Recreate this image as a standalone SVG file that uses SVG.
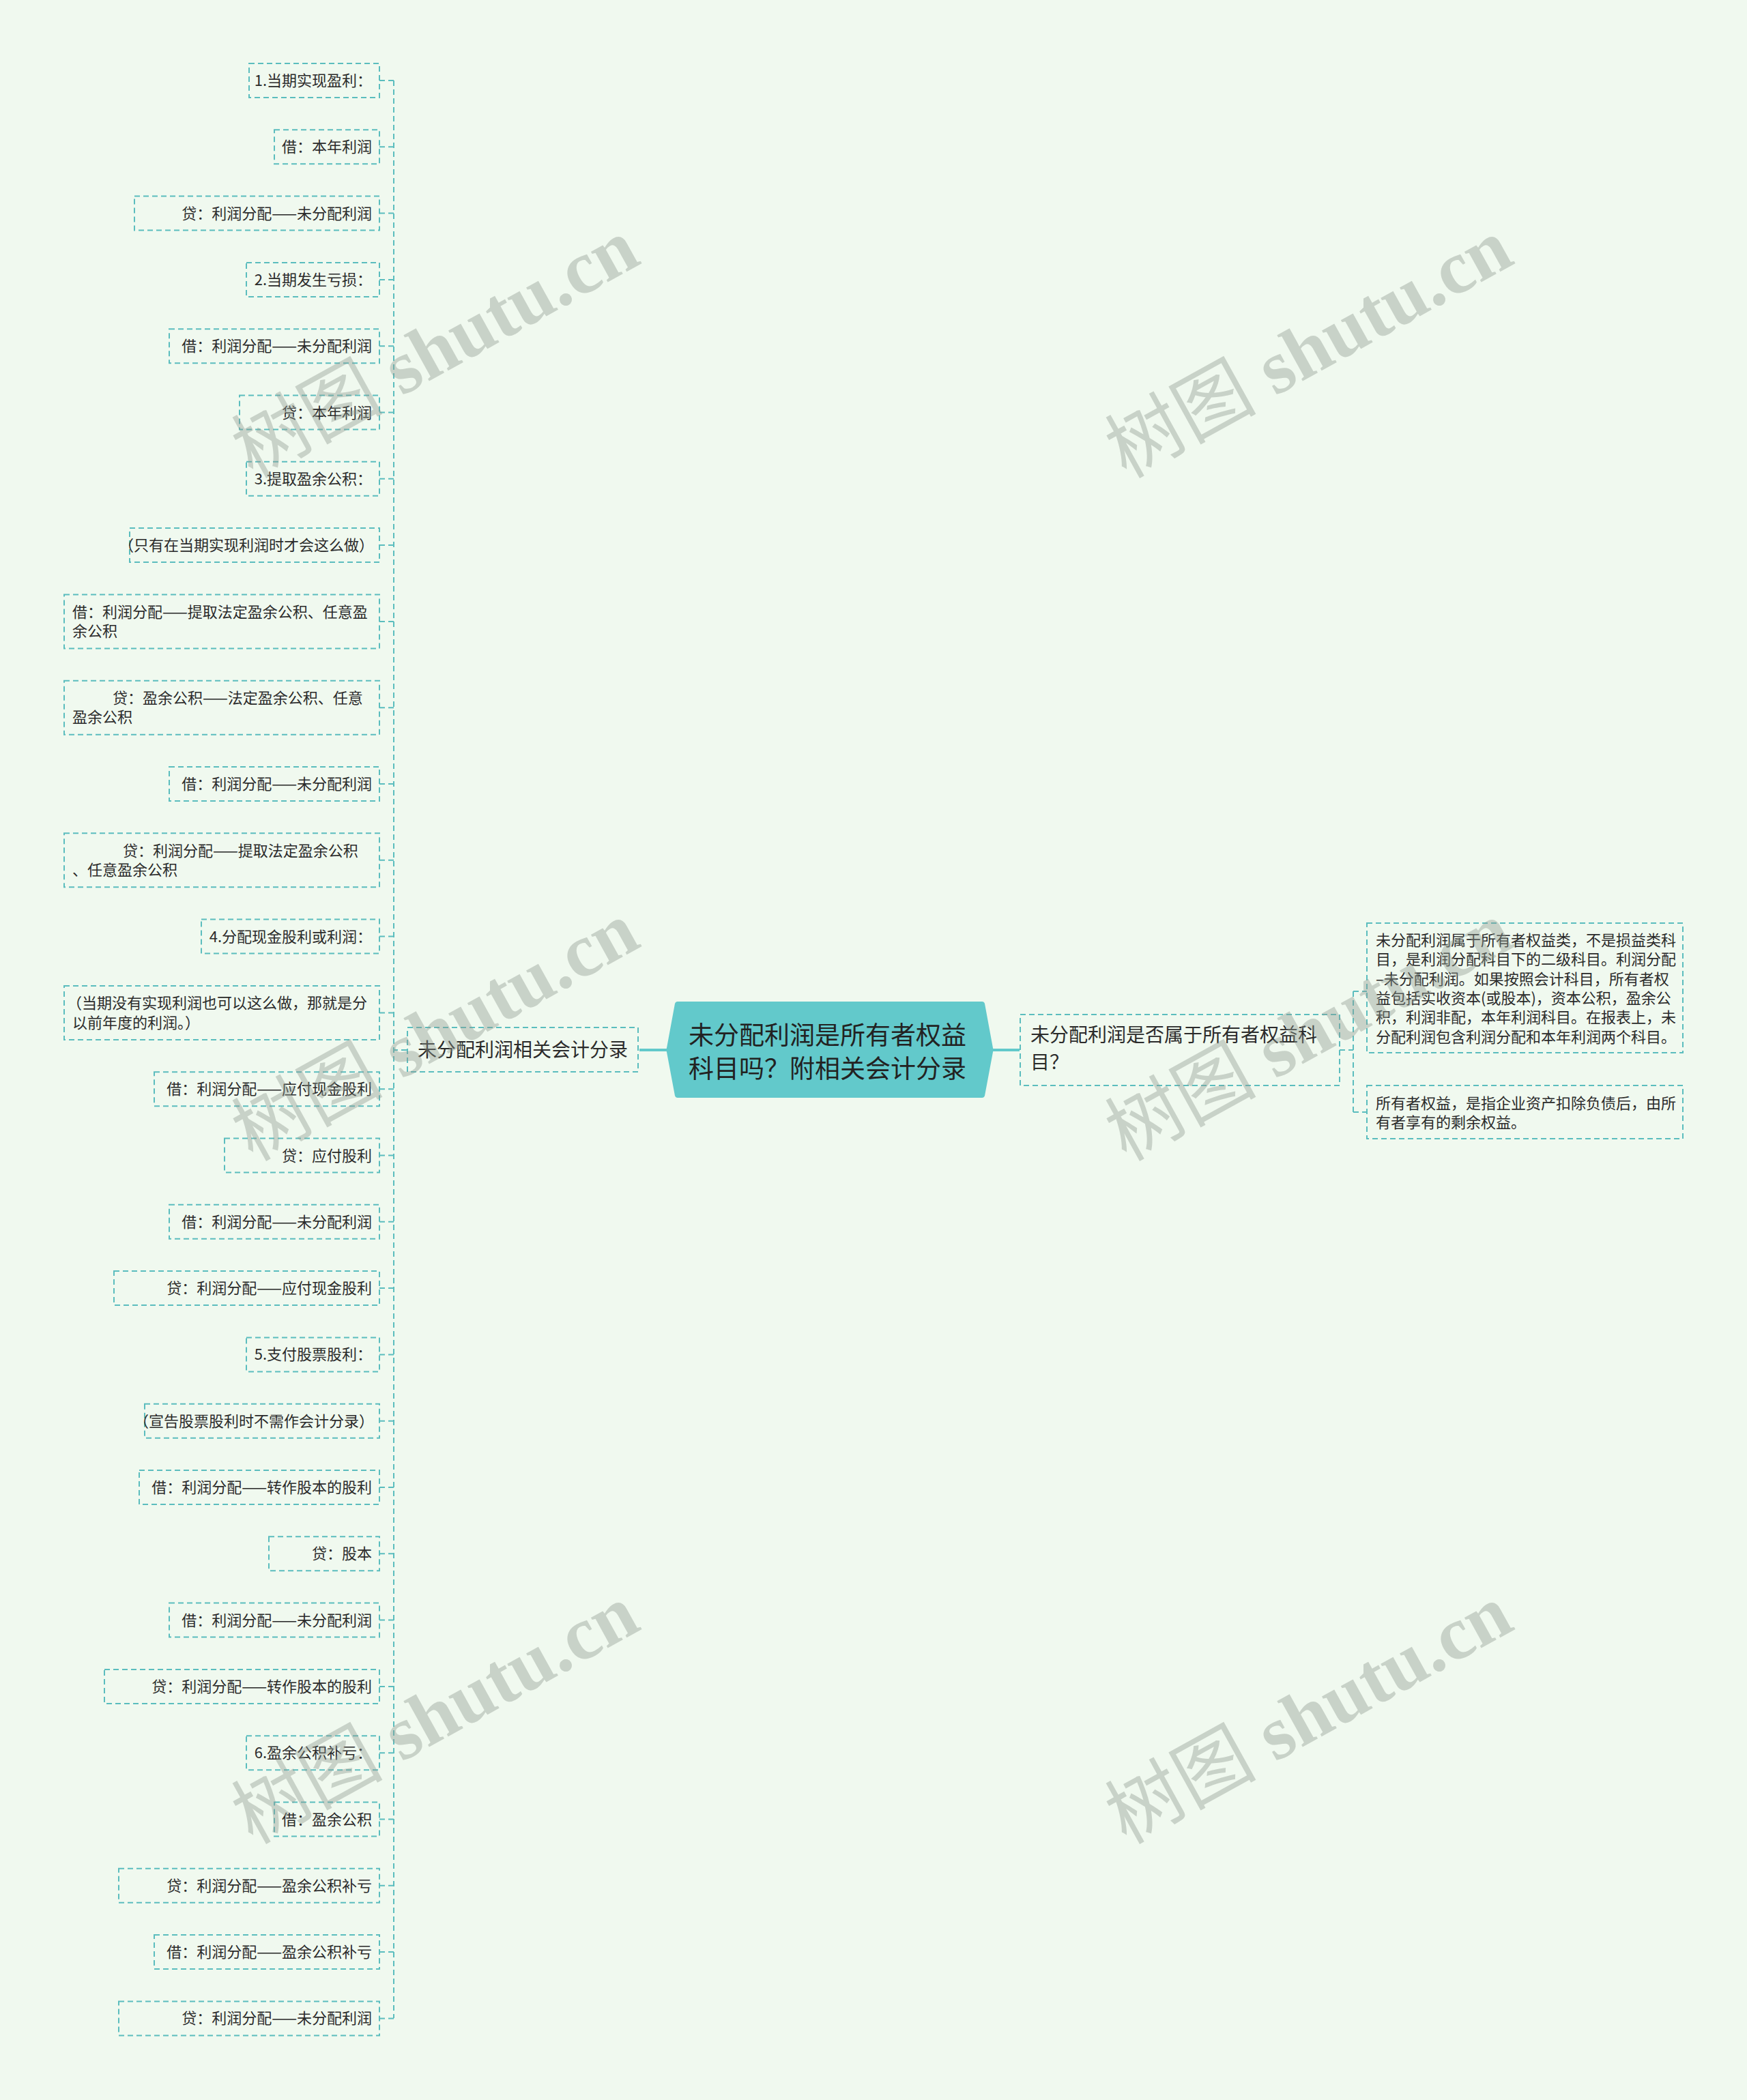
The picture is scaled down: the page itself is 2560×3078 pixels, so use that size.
<svg xmlns="http://www.w3.org/2000/svg" width="2560" height="3078" viewBox="0 0 2560 3078">
<style>
.bg{fill:#F0F9EF}
.box{fill:none;stroke:#5BBDBE;stroke-width:2;stroke-dasharray:8 5}
.ln{fill:none;stroke:#5BBDBE;stroke-width:2;stroke-dasharray:8 5}
.solid{fill:none;stroke:#62C9CB;stroke-width:4}
.t{font-family:"Noto Sans CJK SC","Noto Sans",sans-serif;font-size:22px;fill:#2b2b2b}
.r{text-anchor:end}
.b{font-family:"Noto Sans CJK SC","Noto Sans",sans-serif;font-size:28px;fill:#2b2b2b}
.c{font-family:"Noto Sans CJK SC","Noto Sans",sans-serif;font-size:37px;fill:#222}
.wm{font-family:"Liberation Serif","Noto Sans CJK SC",serif;font-size:111px;fill:#8f998f;opacity:0.4}
.wb{font-weight:bold}
</style>
<rect class="bg" x="0" y="0" width="2560" height="3078"/>

<g id="connectors">
<path class="solid" d="M977,1539 H937"/>
<path class="solid" d="M1455,1539 H1494"/>
<path class="ln" d="M596,1539 H577"/>
<path class="ln" d="M577,118 V2958"/>
<path class="ln" d="M556,118 H577 M556,215.3 H577 M556,312.6 H577 M556,409.9 H577 M556,507.2 H577 M556,604.5 H577 M556,701.8 H577 M556,799.1 H577 M556,910.9 H577 M556,1037.2 H577 M556,1149 H577 M556,1260.8 H577 M556,1372.6 H577 M556,1484.4 H577 M556,1596.2 H577 M556,1693.5 H577 M556,1790.8 H577 M556,1888.1 H577 M556,1985.4 H577 M556,2082.7 H577 M556,2180 H577 M556,2277.3 H577 M556,2374.6 H577 M556,2471.9 H577 M556,2569.2 H577 M556,2666.5 H577 M556,2763.8 H577 M556,2861.1 H577 M556,2958.4 H577"/>
<path class="ln" d="M1963,1539 H1983"/>
<path class="ln" d="M1983,1453 V1630"/>
<path class="ln" d="M1983,1453 H2003 M1983,1630 H2003"/>
</g>

<g id="root">
<path d="M993,1468 H1439 Q1442,1468 1443,1471 L1455,1536 Q1456,1539 1455,1542 L1443,1606 Q1442,1609 1439,1609 H993 Q990,1609 989,1606 L977,1542 Q976,1539 977,1536 L989,1471 Q990,1468 993,1468 Z" fill="#62C9CB"/>
<text class="c" x="1009" y="1531">未分配利润是所有者权益</text>
<text class="c" x="1009" y="1580">科目吗？附相关会计分录</text>
</g>

<g id="branch-left">
<rect class="box" x="597" y="1506" width="338" height="65"/>
<text class="b" x="612" y="1549">未分配利润相关会计分录</text>
</g>

<g id="branch-right">
<rect class="box" x="1495" y="1487" width="468" height="104"/>
<text class="b" x="1510" y="1527">未分配利润是否属于所有者权益科</text>
<text class="b" x="1510" y="1567">目？</text>
</g>

<g id="right-1">
<rect class="box" x="2003" y="1353" width="463" height="190"/>
<text class="t" x="2016" y="1386">未分配利润属于所有者权益类，不是损益类科</text>
<text class="t" x="2016" y="1414.3">目，是利润分配科目下的二级科目。利润分配</text>
<text class="t" x="2016" y="1442.6">–未分配利润。如果按照会计科目，所有者权</text>
<text class="t" x="2016" y="1471">益包括实收资本(或股本)，资本公积，盈余公</text>
<text class="t" x="2016" y="1499.2">积，利润非配，本年利润科目。在报表上，未</text>
<text class="t" x="2016" y="1527.5">分配利润包含利润分配和本年利润两个科目。</text>
</g>
<g id="right-2">
<rect class="box" x="2003" y="1591" width="463" height="78"/>
<text class="t" x="2016" y="1625">所有者权益，是指企业资产扣除负债后，由所</text>
<text class="t" x="2016" y="1653">有者享有的剩余权益。</text>
</g>

<g id="leaf-1"><rect class="box" x="365" y="93" width="191" height="50"/><text class="t r" x="545" y="126">1.当期实现盈利：</text></g>
<g id="leaf-2"><rect class="box" x="402" y="190.3" width="154" height="50"/><text class="t r" x="545" y="223.3">借：本年利润</text></g>
<g id="leaf-3"><rect class="box" x="197" y="287.6" width="359" height="50"/><text class="t r" x="545" y="320.6">贷：利润分配——未分配利润</text></g>
<g id="leaf-4"><rect class="box" x="361" y="384.9" width="195" height="50"/><text class="t r" x="545" y="417.9">2.当期发生亏损：</text></g>
<g id="leaf-5"><rect class="box" x="248" y="482.2" width="308" height="50"/><text class="t r" x="545" y="515.2">借：利润分配——未分配利润</text></g>
<g id="leaf-6"><rect class="box" x="351" y="579.5" width="205" height="50"/><text class="t r" x="545" y="612.5">贷：本年利润</text></g>
<g id="leaf-7"><rect class="box" x="361" y="676.8" width="195" height="50"/><text class="t r" x="545" y="709.8">3.提取盈余公积：</text></g>
<g id="leaf-8"><rect class="box" x="190" y="774.1" width="366" height="50"/><text class="t r" x="548" y="807.1">（只有在当期实现利润时才会这么做）</text></g>
<g id="leaf-9"><rect class="box" x="94" y="871.4" width="462" height="79"/><text class="t" x="106" y="904.9">借：利润分配——提取法定盈余公积、任意盈</text><text class="t" x="106" y="933.1">余公积</text></g>
<g id="leaf-10"><rect class="box" x="94" y="997.7" width="462" height="79"/><text class="t" x="165" y="1031.2">贷：盈余公积——法定盈余公积、任意</text><text class="t" x="106" y="1059.4">盈余公积</text></g>
<g id="leaf-11"><rect class="box" x="248" y="1124" width="308" height="50"/><text class="t r" x="545" y="1157">借：利润分配——未分配利润</text></g>
<g id="leaf-12"><rect class="box" x="94" y="1221.3" width="462" height="79"/><text class="t" x="180" y="1254.8">贷：利润分配——提取法定盈余公积</text><text class="t" x="106" y="1283">、任意盈余公积</text></g>
<g id="leaf-13"><rect class="box" x="295" y="1347.6" width="261" height="50"/><text class="t r" x="545" y="1380.6">4.分配现金股利或利润：</text></g>
<g id="leaf-14"><rect class="box" x="94" y="1444.9" width="462" height="79"/><text class="t" x="98" y="1478.4">（当期没有实现利润也可以这么做，那就是分</text><text class="t" x="106" y="1506.6">以前年度的利润。）</text></g>
<g id="leaf-15"><rect class="box" x="226" y="1571.2" width="330" height="50"/><text class="t r" x="545" y="1604.2">借：利润分配——应付现金股利</text></g>
<g id="leaf-16"><rect class="box" x="329" y="1668.5" width="227" height="50"/><text class="t r" x="545" y="1701.5">贷：应付股利</text></g>
<g id="leaf-17"><rect class="box" x="248" y="1765.8" width="308" height="50"/><text class="t r" x="545" y="1798.8">借：利润分配——未分配利润</text></g>
<g id="leaf-18"><rect class="box" x="167" y="1863.1" width="389" height="50"/><text class="t r" x="545" y="1896.1">贷：利润分配——应付现金股利</text></g>
<g id="leaf-19"><rect class="box" x="361" y="1960.4" width="195" height="50"/><text class="t r" x="545" y="1993.4">5.支付股票股利：</text></g>
<g id="leaf-20"><rect class="box" x="212" y="2057.7" width="344" height="50"/><text class="t r" x="548" y="2090.7">（宣告股票股利时不需作会计分录）</text></g>
<g id="leaf-21"><rect class="box" x="204" y="2155" width="352" height="50"/><text class="t r" x="545" y="2188">借：利润分配——转作股本的股利</text></g>
<g id="leaf-22"><rect class="box" x="394" y="2252.3" width="162" height="50"/><text class="t r" x="545" y="2285.3">贷：股本</text></g>
<g id="leaf-23"><rect class="box" x="248" y="2349.6" width="308" height="50"/><text class="t r" x="545" y="2382.6">借：利润分配——未分配利润</text></g>
<g id="leaf-24"><rect class="box" x="153" y="2446.9" width="403" height="50"/><text class="t r" x="545" y="2479.9">贷：利润分配——转作股本的股利</text></g>
<g id="leaf-25"><rect class="box" x="361" y="2544.2" width="195" height="50"/><text class="t r" x="545" y="2577.2">6.盈余公积补亏：</text></g>
<g id="leaf-26"><rect class="box" x="402" y="2641.5" width="154" height="50"/><text class="t r" x="545" y="2674.5">借：盈余公积</text></g>
<g id="leaf-27"><rect class="box" x="174" y="2738.8" width="382" height="50"/><text class="t r" x="545" y="2771.8">贷：利润分配——盈余公积补亏</text></g>
<g id="leaf-28"><rect class="box" x="226" y="2836.1" width="330" height="50"/><text class="t r" x="545" y="2869.1">借：利润分配——盈余公积补亏</text></g>
<g id="leaf-29"><rect class="box" x="174" y="2933.4" width="382" height="50"/><text class="t r" x="545" y="2966.4">贷：利润分配——未分配利润</text></g>

<g id="watermarks">
<text class="wm" transform="translate(370,702) rotate(-29)">树图 <tspan class="wb">shutu.cn</tspan></text>
<text class="wm" transform="translate(370,1703) rotate(-29)">树图 <tspan class="wb">shutu.cn</tspan></text>
<text class="wm" transform="translate(370,2704) rotate(-29)">树图 <tspan class="wb">shutu.cn</tspan></text>
<text class="wm" transform="translate(1650,702) rotate(-29)">树图 <tspan class="wb">shutu.cn</tspan></text>
<text class="wm" transform="translate(1650,1703) rotate(-29)">树图 <tspan class="wb">shutu.cn</tspan></text>
<text class="wm" transform="translate(1650,2704) rotate(-29)">树图 <tspan class="wb">shutu.cn</tspan></text>
</g>
</svg>
